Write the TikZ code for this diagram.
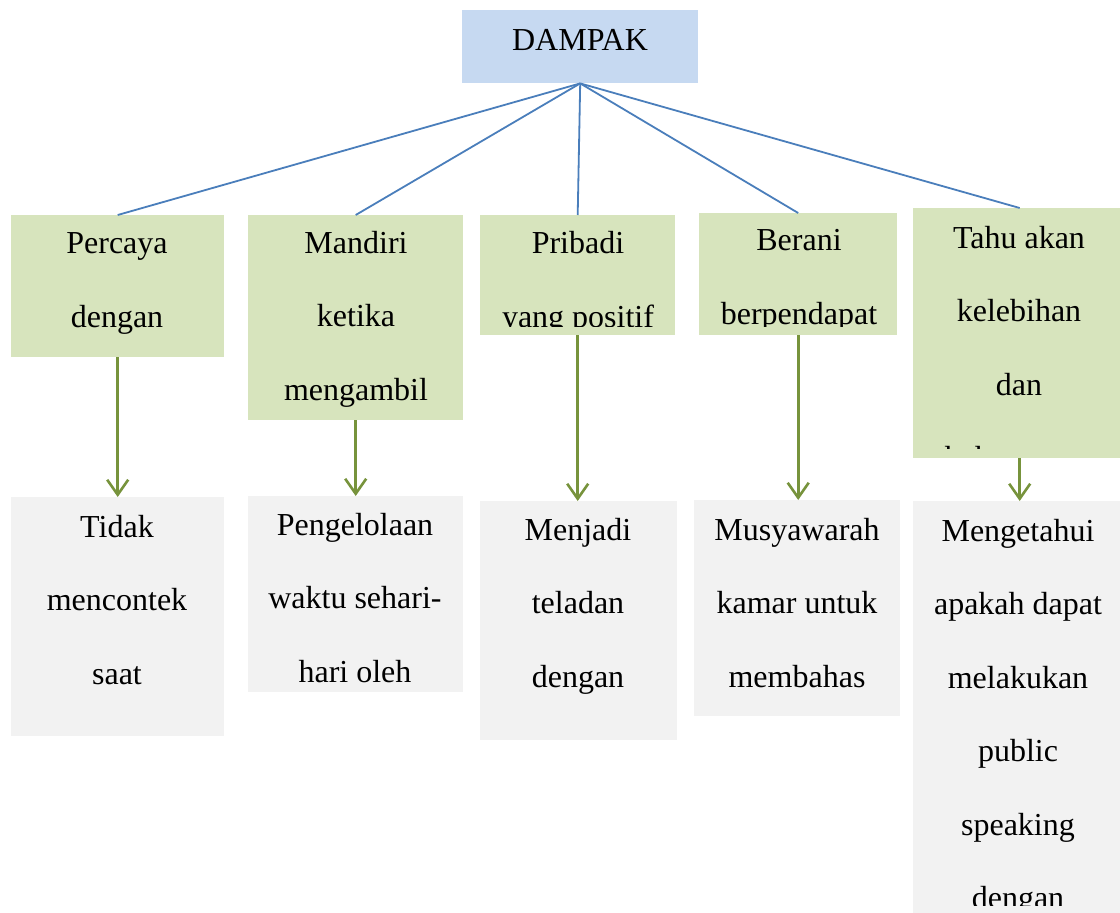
\documentclass[tikz,border=0pt]{standalone}
\usepackage{fontspec}
\setmainfont{Liberation Serif}
\usepackage{tikz}
\usetikzlibrary{arrows.meta,calc}
\definecolor{headfill}{HTML}{C6D9F1}
\definecolor{leaffill}{HTML}{D7E4BD}
\definecolor{notefill}{HTML}{F2F2F2}
\definecolor{linkblue}{HTML}{4A7EBB}
\definecolor{linkgreen}{HTML}{77933C}

\tikzset{
  card/.style={anchor=north west,inner sep=0pt,draw=none},
  % anchored at the baseline of the last line
  words/.style={anchor=base,align=center,inner sep=0pt,
    font=\fontsize{32pt}{73.5pt}\selectfont},
  branch/.style={draw=linkblue,line width=1.8pt},
  down/.style={draw=linkgreen,line width=2.8pt,
    -{Straight Barb[length=15pt,width=21pt,line width=2.6pt]}}
}

\begin{document}
\begin{tikzpicture}[x=1pt,y=-1pt]
  \useasboundingbox (0,0) rectangle (1120,913);

  % head
  \node[card,fill=headfill,minimum width=236pt,minimum height=73pt] (dampak) at (462,10) {};
  \node[words] (dampakT) at (580,50) {DAMPAK};

  % green row
  \node[card,fill=leaffill,minimum width=213pt,minimum height=142pt] (percaya) at (11,215) {};
  \node[card,fill=leaffill,minimum width=215pt,minimum height=205pt] (mandiri) at (248,215) {};
  \node[card,fill=leaffill,minimum width=195pt,minimum height=120pt] (pribadi) at (480,215) {};
  \node[card,fill=leaffill,minimum width=198pt,minimum height=122pt] (berani) at (699,213) {};
  \node[card,fill=leaffill,minimum width=207pt,minimum height=250pt] (tahu) at (913,208) {};

  % grey row
  \node[card,fill=notefill,minimum width=213pt,minimum height=239pt] (tidak) at (11,497) {};
  \node[card,fill=notefill,minimum width=215pt,minimum height=196pt] (kelola) at (248,496) {};
  \node[card,fill=notefill,minimum width=197pt,minimum height=239pt] (teladan) at (480,501) {};
  \node[card,fill=notefill,minimum width=206pt,minimum height=216pt] (musyawarah) at (694,500) {};
  \node[card,fill=notefill,minimum width=207pt,minimum height=412pt] (publik) at (913,501) {};

  % texts, cut off at the inner edge of each box
  \begin{scope}
    \clip ([yshift=9pt]percaya.south west) rectangle (percaya.north east);
    \node[words] (percayaT) at (117,327) {Percaya\\dengan};
  \end{scope}
  \begin{scope}
    \clip ([yshift=9pt]mandiri.south west) rectangle (mandiri.north east);
    \node[words] (mandiriT) at (356,400) {Mandiri\\ketika\\mengambil};
  \end{scope}
  \begin{scope}
    \clip ([yshift=9pt]pribadi.south west) rectangle (pribadi.north east);
    \node[words] (pribadiT) at (578,327) {Pribadi\\yang positif};
  \end{scope}
  \begin{scope}
    \clip ([yshift=9pt]berani.south west) rectangle (berani.north east);
    \node[words] (beraniT) at (799,324) {Berani\\berpendapat};
  \end{scope}
  \begin{scope}
    \clip ([yshift=10pt]tahu.south west) rectangle (tahu.north east);
    \node[words] (tahuT) at (1019,468.5) {Tahu akan\\kelebihan\\dan\\kekurangan};
  \end{scope}
  \begin{scope}
    \clip ([yshift=9pt]tidak.south west) rectangle (tidak.north east);
    \node[words] (tidakT) at (117,684) {Tidak\\mencontek\\saat};
  \end{scope}
  \begin{scope}
    \clip ([yshift=9pt]kelola.south west) rectangle (kelola.north east);
    \node[words] (kelolaT) at (355,682) {Pengelolaan\\waktu sehari-\\hari oleh};
  \end{scope}
  \begin{scope}
    \clip ([yshift=9pt]teladan.south west) rectangle (teladan.north east);
    \node[words] (teladanT) at (578,687) {Menjadi\\teladan\\dengan};
  \end{scope}
  \begin{scope}
    \clip ([yshift=9pt]musyawarah.south west) rectangle (musyawarah.north east);
    \node[words] (musyawarahT) at (797,687) {Musyawarah\\kamar untuk\\membahas};
  \end{scope}
  \begin{scope}
    \clip ([yshift=8pt]publik.south west) rectangle (publik.north east);
    \node[words] (publikT) at (1018,908.5) {Mengetahui\\apakah dapat\\melakukan\\public\\speaking\\dengan};
  \end{scope}

  % connectors
  \foreach \leaf in {percaya,mandiri,pribadi,berani}
    \draw[branch] (dampak.south) -- (\leaf.north);
  \draw[branch] (dampak.south) -- ([xshift=3pt]tahu.north);
  \draw[down] (percaya.south) -- (tidak.north);
  \draw[down] (mandiri.south) -- (kelola.north);
  \draw[down] (pribadi.south) -- (pribadi.south |- teladan.north);
  \draw[down] (berani.south) -- (berani.south |- musyawarah.north);
  \draw[down] ([xshift=3pt]tahu.south) -- ([xshift=3pt]tahu.south |- publik.north);
\end{tikzpicture}
\end{document}
